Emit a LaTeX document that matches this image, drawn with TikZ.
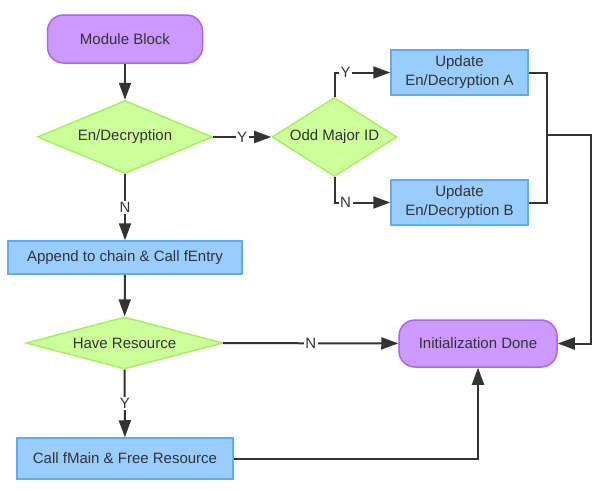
\documentclass[tikz,border=0pt]{standalone}
\usepackage{fontspec}
\setmainfont{Liberation Sans}
\usetikzlibrary{shapes.geometric,arrows.meta}
\definecolor{purfill}{HTML}{CC99FF}
\definecolor{purdraw}{HTML}{AA66EE}
\definecolor{grnfill}{HTML}{CCFF99}
\definecolor{grndraw}{HTML}{A8EE66}
\definecolor{blufill}{HTML}{99CCFF}
\definecolor{bludraw}{HTML}{66AAEE}
\definecolor{ink}{HTML}{333333}
\begin{document}
\begin{tikzpicture}[x=1pt,y=-1pt,
  font=\fontsize{15}{19}\selectfont,
  every node/.style={text=ink},
  term/.style={draw=purdraw,fill=purfill,line width=1.5pt,rounded corners=16pt,inner sep=0pt},
  decis/.style={diamond,draw=grndraw,fill=grnfill,line width=1.5pt,inner sep=0pt},
  procbox/.style={rectangle,draw=bludraw,fill=blufill,line width=1.5pt,inner sep=0pt,align=center},
  conn/.style={draw=ink,line width=2pt},
  arr/.style={conn,-{Triangle[length=17pt,width=12pt]}},
  lbl/.style={fill=white,inner sep=1.5pt,text=ink}
]
\useasboundingbox[fill=white] (0,0) rectangle (600,490);

\node[term,minimum width=155pt,minimum height=48pt] (mb) at (125,39) {Module Block};
\node[decis,aspect=2.4,minimum width=175pt,minimum height=73pt] (enc) at (125,137) {En/Decryption};
\node[decis,aspect=1.58,minimum width=125pt,minimum height=79pt] (odd) at (334.5,137) {Odd Major ID};
\node[procbox,minimum width=137pt,minimum height=45pt] (ua) at (459.5,72.5) {Update\\En/Decryption A};
\node[procbox,minimum width=137pt,minimum height=45pt] (ub) at (459.5,202.5) {Update\\En/Decryption B};
\node[procbox,minimum width=234pt,minimum height=33pt] (app) at (125,257.5) {Append to chain \& Call fEntry};
\node[decis,aspect=3.79,minimum width=197pt,minimum height=52pt] (have) at (124.5,343) {Have Resource};
\node[procbox,minimum width=216pt,minimum height=41pt] (call) at (125,458.5) {Call fMain \& Free Resource};
\node[term,minimum width=158pt,minimum height=47pt] (init) at (478,343.5) {Initialization Done};

\coordinate (mA) at (547,72.5);
\coordinate (mB) at (547,202.5);
\coordinate (mM) at (547,135);
\coordinate (rt) at (591,135);

\draw[arr] (mb) -- (enc);
\draw[arr] (enc) -- node[lbl]{Y} (odd);
\draw[arr] (enc) -- node[lbl]{N} (app);
\draw[arr] (odd.north) |- node[lbl,pos=0.6]{Y} (ua.west);
\draw[arr] (odd.south) |- node[lbl,pos=0.6]{N} (ub.west);
\draw[conn] (ua.east) -- (mA) -- (mB) -- (ub.east);
\draw[arr] (mM) -- (rt) |- (init.east);
\draw[arr] (app) -- (have);
\draw[arr] (have) -- node[lbl]{N} (init);
\draw[arr] (have) -- node[lbl]{Y} (call);
\draw[arr] (call.east) -| (init.south);
\end{tikzpicture}
\end{document}
